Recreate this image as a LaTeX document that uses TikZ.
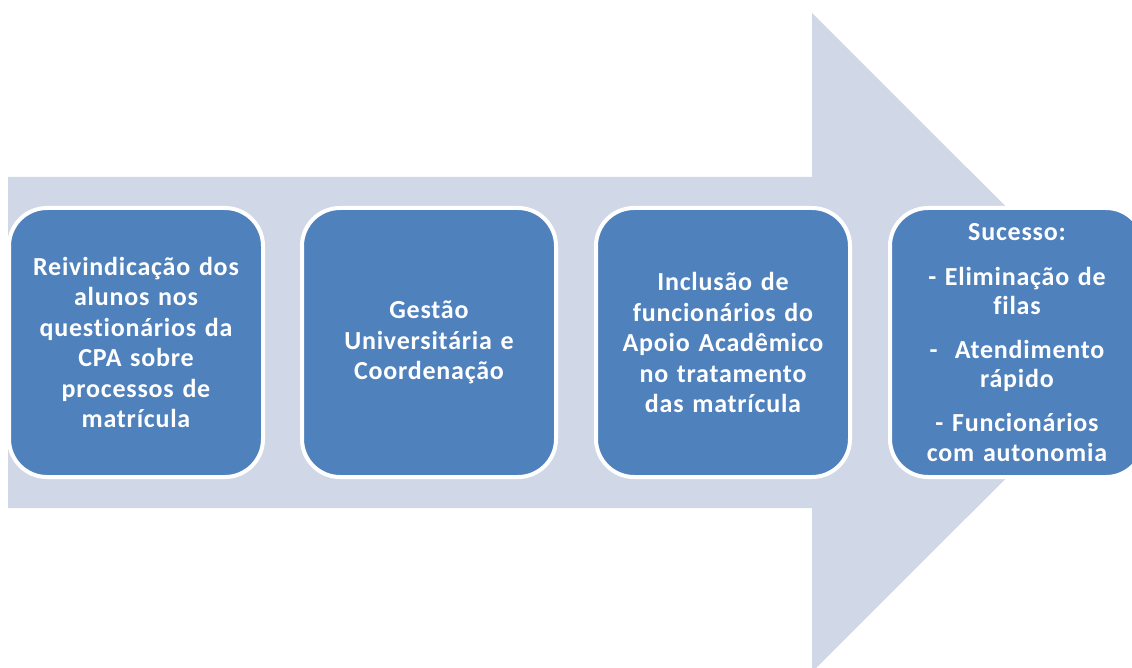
\documentclass[tikz,border=0pt]{standalone}
\usepackage{fontspec}
\setmainfont[Ligatures=NoCommon,LetterSpace=3,WordSpace=0.8]{Carlito}
\definecolor{arrowfill}{HTML}{D0D8E8}
\definecolor{boxblue}{HTML}{4F81BD}
\begin{document}
\begin{tikzpicture}[x=1pt,y=-1pt,
  stepbox/.style={draw=white, line width=4pt, fill=boxblue, rounded corners=38pt,
    minimum width=254pt, minimum height=269pt, text width=244pt, align=center,
    text=white, inner sep=0pt, font=\fontsize{26}{30.5}\selectfont\bfseries},
  lastbox/.style={stepbox, font=\fontsize{26}{29.2}\selectfont\bfseries}]
\useasboundingbox (0,0) rectangle (1132,668);
\clip (0,0) rectangle (1132,668);
% big arrow
\fill[arrowfill] (8,177) -- (812,177) -- (812,13) -- (1142,342.5) -- (812,672) -- (812,508) -- (8,508) -- cycle;
% steps
\node[stepbox] (s1) at (136,342.5) {Reivindicação dos\\alunos nos\\questionários da\\CPA sobre\\processos de\\matrícula};
\node[stepbox] (s2) at (429,342.5) {Gestão\\Universitária e\\Coordenação};
\node[stepbox] (s3) at (723,342.5) {Inclusão de\\funcionários do\\Apoio Acadêmico\\no tratamento\\das matrícula};
\node[lastbox] (s4) at (1017,342.5) {Sucesso:\\[15pt]- Eliminação de\\filas\\[15pt]-\ \ Atendimento\\rápido\\[15pt]- Funcionários\\com autonomia};
\end{tikzpicture}
\end{document}
